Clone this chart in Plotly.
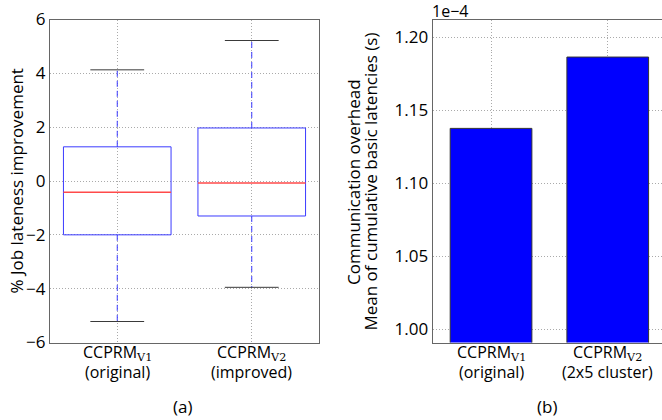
import plotly.graph_objects as go

# ---- data ----
SUB = "<sub><span style=\"font-family:'DejaVu Serif'\">{}</span></sub>"
box_label_main = ["CCPRM" + SUB.format("V1"), "CCPRM" + SUB.format("V2")]
box_label_sub = ["(original)", "(improved)"]
box_pos = [0, 1]
box_low = [-5.22, -3.95]
box_q1 = [-2.0, -1.3]
box_med = [-0.42, -0.07]
box_q3 = [1.27, 1.97]
box_high = [4.13, 5.22]

bar_label_main = ["CCPRM" + SUB.format("V1"), "CCPRM" + SUB.format("V2")]
bar_label_sub = ["(original)", "(2x5 cluster)"]
bar_pos = [0, 1]
bar_vals_s = [1.1375e-4, 1.1863e-4]
scale = 1e-4
bar_vals = [v / scale for v in bar_vals_s]

left_yticks = [-6, -4, -2, 0, 2, 4, 6]
right_yticks = [1.00, 1.05, 1.10, 1.15, 1.20]

FONT = "Open Sans"
FS = 17
XFS = 16
BOXC = "#3b3bff"
MEDC = "#ff4a4a"
CAPC = "#3a3a3a"
SPINE = "#666666"
GRID = "#aaaaaa"

fig = go.Figure()

hw = 0.4   # box half width
cw = 0.2   # cap half width
for i, p in enumerate(box_pos):
    fig.add_trace(go.Scatter(x=[p, p, None, p, p], y=[box_q3[i], box_high[i], None, box_q1[i], box_low[i]],
                             mode="lines", line=dict(color=BOXC, width=1, dash="6px,4px"),
                             xaxis="x", yaxis="y", showlegend=False, hoverinfo="skip"))
    fig.add_trace(go.Scatter(x=[p - cw, p + cw, None, p - cw, p + cw],
                             y=[box_high[i], box_high[i], None, box_low[i], box_low[i]],
                             mode="lines", line=dict(color=CAPC, width=1),
                             xaxis="x", yaxis="y", showlegend=False, hoverinfo="skip"))
    fig.add_trace(go.Scatter(x=[p - hw, p + hw, p + hw, p - hw, p - hw],
                             y=[box_q1[i], box_q1[i], box_q3[i], box_q3[i], box_q1[i]],
                             mode="lines", line=dict(color=BOXC, width=1),
                             xaxis="x", yaxis="y", showlegend=False, hoverinfo="skip"))
    fig.add_trace(go.Scatter(x=[p - hw, p + hw], y=[box_med[i], box_med[i]],
                             mode="lines", line=dict(color=MEDC, width=1.5),
                             xaxis="x", yaxis="y", showlegend=False, hoverinfo="skip"))

fig.add_trace(go.Bar(x=bar_pos, y=bar_vals, width=0.7,
                     marker=dict(color="#0000ff", line=dict(color="#333333", width=1)),
                     xaxis="x2", yaxis="y2", showlegend=False, hoverinfo="skip"))

ydom = [(420 - 342.5) / 420, (420 - 19.5) / 420]
axis_common = dict(showline=True, linecolor=SPINE, linewidth=1.3, showgrid=True,
                   gridcolor=GRID, griddash="1px,2px", gridwidth=1, zeroline=False,
                   automargin=False,
                   ticks="", tickfont=dict(family=FONT, size=FS, color="black"))

def py(y_px):
    return (420 - y_px) / 420

annotations = []
for xref, pos, mains, subs in (("x", box_pos, box_label_main, box_label_sub),
                               ("x2", bar_pos, bar_label_main, bar_label_sub)):
    for p, m, s in zip(pos, mains, subs):
        annotations.append(dict(text=m, x=p, xref=xref, y=py(340), yref="paper", showarrow=False,
                                xanchor="center", yanchor="top", borderpad=0,
                                font=dict(family=FONT, size=XFS)))
        annotations.append(dict(text=s, x=p, xref=xref, y=py(372), yref="paper", showarrow=False,
                                xanchor="center", yanchor="middle", borderpad=0,
                                font=dict(family=FONT, size=XFS)))

annotations += [
    dict(text="% Job lateness improvement", x=15.5 / 662, y=py(181),
         xref="paper", yref="paper", textangle=-90, showarrow=False,
         font=dict(family=FONT, size=FS), xanchor="center", yanchor="middle"),
    dict(text="Communication overhead", x=353 / 662, y=py(182),
         xref="paper", yref="paper", textangle=-90, showarrow=False,
         font=dict(family=FONT, size=FS), xanchor="center", yanchor="middle"),
    dict(text="Mean of cumulative basic latencies (s)", x=369.5 / 662, y=py(182),
         xref="paper", yref="paper", textangle=-90, showarrow=False,
         font=dict(family=FONT, size=FS), xanchor="center", yanchor="middle"),
    dict(text="1e\u22124", x=431 / 662, y=py(11), xref="paper", yref="paper",
         showarrow=False, xanchor="left", yanchor="middle", borderpad=0,
         font=dict(family=FONT, size=16)),
    dict(text="(a)", x=183 / 662, y=py(406), xref="paper", yref="paper",
         showarrow=False, xanchor="center", yanchor="middle", font=dict(family=FONT, size=FS)),
    dict(text="(b)", x=547 / 662, y=py(406), xref="paper", yref="paper",
         showarrow=False, xanchor="center", yanchor="middle", font=dict(family=FONT, size=FS)),
]

fig.update_layout(
    width=662, height=420, autosize=False,
    margin=dict(l=0, r=0, t=0, b=0, pad=0),
    paper_bgcolor="white", plot_bgcolor="white",
    font=dict(family=FONT, size=FS, color="black"),
    xaxis=dict(domain=[50 / 662, 319 / 662], range=[-0.5, 1.5], tickvals=box_pos, showticklabels=False,
               mirror=True, anchor="y", **axis_common),
    yaxis=dict(domain=ydom, range=[-6, 6], tickvals=left_yticks, mirror=True, anchor="x", **axis_common),
    xaxis2=dict(domain=[432.7 / 662, 1.0], range=[-0.5, 1.465], tickvals=bar_pos, showticklabels=False,
                mirror=True, anchor="y2", **axis_common),
    yaxis2=dict(domain=ydom, range=[0.991, 1.212], tickvals=right_yticks,
                tickformat=".2f", mirror=False, anchor="x2", **axis_common),
    annotations=annotations,
)

fig.write_html("out.html")
